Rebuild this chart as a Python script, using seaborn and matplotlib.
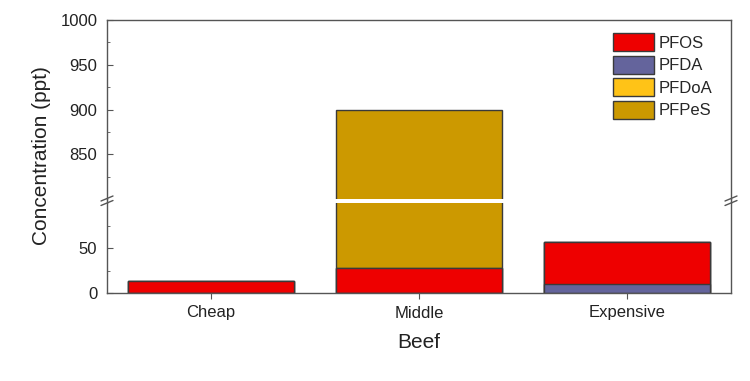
import matplotlib
matplotlib.use("Agg")
import matplotlib.pyplot as plt
import matplotlib.patches as mpatches
import matplotlib.lines as mlines
import seaborn as sns
import pandas as pd
import numpy as np

categories = ["Cheap", "Middle", "Expensive"]
pfos = [13.5, 27.5, 47]
pfda = [0, 0, 10]
pfdoa = [0, 0, 0]
pfpes = [0, 872.5, 0]

colors = {"PFOS": "#EE0000", "PFDA": "#64649C", "PFDoA": "#FFC317", "PFPeS": "#CC9900"}

# stack bottom -> top: PFDA, PFOS, PFDoA, PFPeS
df = pd.DataFrame({"Beef": categories, "PFDA": pfda, "PFOS": pfos,
                   "PFDoA": pfdoa, "PFPeS": pfpes})
order = ["PFDA", "PFOS", "PFDoA", "PFPeS"]
cum = df[order].cumsum(axis=1)

sns.set_style("ticks")
plt.rcParams["font.family"] = ["Liberation Sans", "DejaVu Sans"]

fig = plt.figure(figsize=(7.5, 3.81), dpi=100)
W, H = 750, 381
def box(x0, y0, x1, y1):
    return [x0 / W, 1 - y1 / H, (x1 - x0) / W, (y1 - y0) / H]

ax_top = fig.add_axes(box(107, 20, 731, 199))
ax_bot = fig.add_axes(box(107, 203, 731, 293))

edge = "#3a3a3a"
for ax in (ax_top, ax_bot):
    # draw cumulative totals from the top layer down so each overlays the previous
    for name in reversed(order):
        sns.barplot(data=cum.assign(Beef=categories), x="Beef", y=name, ax=ax,
                    color=colors[name], width=0.8, saturation=1,
                    edgecolor=edge, linewidth=1.0, order=categories)
    ax.set_xlim(-0.5, 2.5)
    ax.set_ylabel("")
    ax.set_xlabel("")
    for s in ax.spines.values():
        s.set_color("#555555")
        s.set_linewidth(1.0)
    ax.tick_params(axis="y", direction="in", length=4, color="#555555",
                   labelsize=12, labelcolor="#222222", pad=7)
    ax.tick_params(axis="y", which="minor", direction="in", length=2.5, color="#555555")

ax_top.set_ylim(800, 1000)
ax_top.set_yticks([850, 900, 950, 1000])
ax_top.set_yticks([825, 875, 925, 975], minor=True)
ax_top.spines["bottom"].set_visible(False)
ax_top.tick_params(axis="x", bottom=False, labelbottom=False)

ax_bot.set_ylim(0, 100)
ax_bot.set_yticks([0, 50])
ax_bot.set_yticks([25, 75], minor=True)
ax_bot.spines["top"].set_visible(False)
ax_bot.tick_params(axis="x", direction="out", length=4, color="#555555",
                   labelsize=12, labelcolor="#222222", pad=5)

# join the spines through the break gap and add break marks
for xp in (107, 731):
    fig.add_artist(mlines.Line2D([xp / W, xp / W], [1 - 203 / H, 1 - 199 / H],
                                 color="#555555", lw=1.0))
    for dy in (-2.5, 2.0):
        yc = 201 + dy
        fig.add_artist(mlines.Line2D([(xp - 6) / W, (xp + 6) / W],
                                     [1 - (yc + 2.5) / H, 1 - (yc - 2.5) / H],
                                     color="#555555", lw=1.0))

fig.text(42 / W, 1 - 156 / H, "Concentration (ppt)", rotation=90,
         ha="center", va="center", fontsize=15, color="#222222")
fig.text(419 / W, 1 - 343 / H, "Beef", ha="center", va="center",
         fontsize=15, color="#222222")

handles = [mpatches.Patch(facecolor=colors[n], edgecolor=edge, label=n)
           for n in ["PFOS", "PFDA", "PFDoA", "PFPeS"]]
fig.legend(handles=handles, loc="upper left", bbox_to_anchor=(613 / W, 1 - 33 / H),
           frameon=False, fontsize=12, handlelength=2.45, handleheight=1.3,
           handletextpad=0.3, labelspacing=0.26, borderpad=0, borderaxespad=0)

fig.savefig("out.png", dpi=100)
